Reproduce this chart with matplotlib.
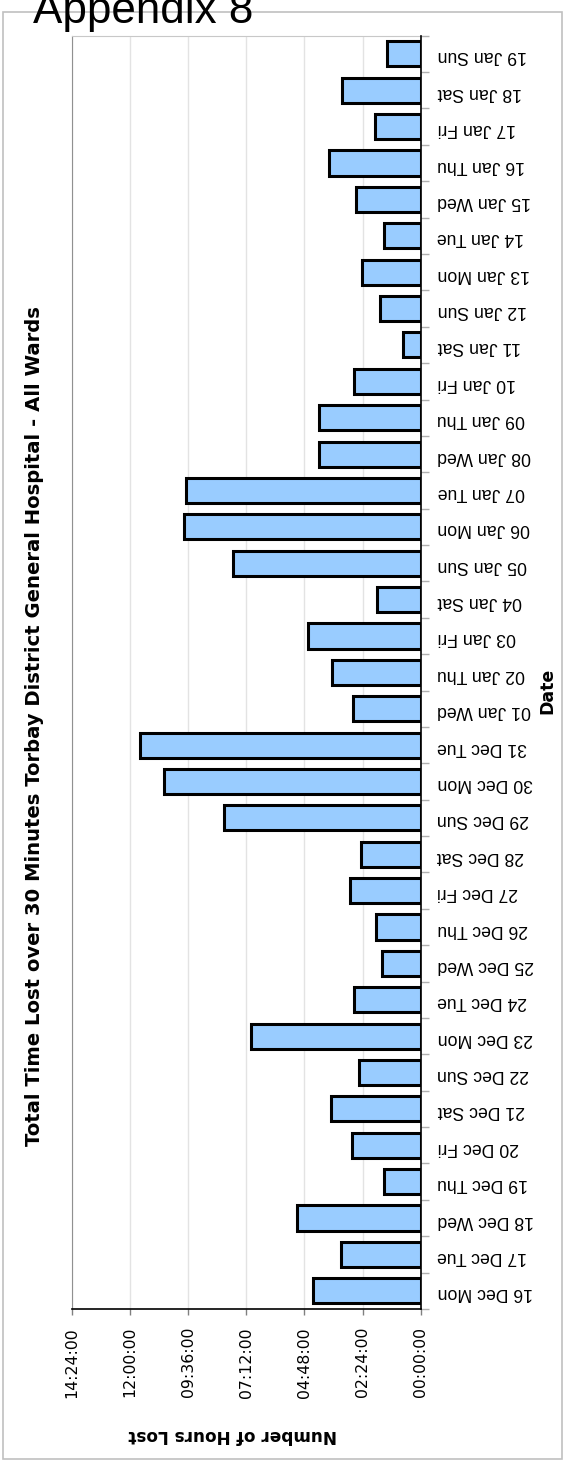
import matplotlib
matplotlib.use('Agg')
import matplotlib.pyplot as plt
from matplotlib.patches import Rectangle
from matplotlib.ticker import FixedLocator, FuncFormatter

plt.rcParams['font.family'] = ['DejaVu Sans']

# dates, bottom to top
dates = ['16 Dec Mon', '17 Dec Tue', '18 Dec Wed', '19 Dec Thu', '20 Dec Fri',
         '21 Dec Sat', '22 Dec Sun', '23 Dec Mon', '24 Dec Tue', '25 Dec Wed',
         '26 Dec Thu', '27 Dec Fri', '28 Dec Sat', '29 Dec Sun', '30 Dec Mon',
         '31 Dec Tue', '01 Jan Wed', '02 Jan Thu', '03 Jan Fri', '04 Jan Sat',
         '05 Jan Sun', '06 Jan Mon', '07 Jan Tue', '08 Jan Wed', '09 Jan Thu',
         '10 Jan Fri', '11 Jan Sat', '12 Jan Sun', '13 Jan Mon', '14 Jan Tue',
         '15 Jan Wed', '16 Jan Thu', '17 Jan Fri', '18 Jan Sat', '19 Jan Sun']
# minutes lost per day
minutes_lost = [266, 198, 306, 90, 170, 222, 153, 420, 164, 96,
                111, 174, 149, 486, 636, 694, 167, 220, 278, 107,
                464, 586, 582, 251, 252, 165, 43, 101, 145, 90,
                160, 227, 112, 194, 84]
value_ticks = [0, 144, 288, 432, 576, 720, 864]

W, H = 563, 1461
fig = plt.figure(figsize=(W / 100, H / 100), dpi=100)

def px(x, y):
    return x / W, 1 - y / H

l, t = px(71.7, 35.7)
r, b = px(420.7, 1309)
ax = fig.add_axes([l, b, r - l, t - b])

pos = list(range(len(dates)))
ax.barh(pos, minutes_lost, height=0.69, color='#99ccff', edgecolor='black',
        linewidth=2.2, zorder=3)

ax.set_xlim(864, 0)
ax.set_ylim(-0.5, len(dates) - 0.5)

# value axis
ax.xaxis.set_major_locator(FixedLocator(value_ticks))
ax.xaxis.set_major_formatter(FuncFormatter(
    lambda v, p: '%02d:%02d:00' % (int(v) // 60, int(v) % 60)))
ax.tick_params(axis='x', direction='out', length=4, width=1, color='#808080',
               pad=9, labelsize=11.3, labelrotation=90)
ax.grid(axis='x', color='#e3e3e3', linewidth=1, zorder=0)

# category axis on the right, labels upside down
ax.yaxis.tick_right()
ax.set_yticks(pos)
ax.set_yticklabels(dates, rotation=180, family='Liberation Sans', fontsize=12.7)
ax.set_yticks([p + 0.5 for p in pos[:-1]] + [-0.5, len(dates) - 0.5], minor=True)
ax.tick_params(axis='y', which='major', length=0, pad=12)
ax.tick_params(axis='y', which='minor', length=6, width=1, color='#b0b0b0')

ax.spines['right'].set_color('black')
ax.spines['right'].set_linewidth(1.2)
ax.spines['bottom'].set_color('black')
ax.spines['bottom'].set_linewidth(1.2)
ax.spines['left'].set_color('#909090')
ax.spines['top'].set_color('#c8c8c8')
ax.spines['right'].set_zorder(4)

# outer chart border
fig.patches.append(Rectangle(px(3, 1459), 559 / W, 1447 / H, transform=fig.transFigure,
                             fill=False, edgecolor='#c0c0c0', linewidth=1.2))

x, y = px(33, 22.7)
fig.text(x, y, 'Appendix 8', family='Liberation Sans', fontsize=31.7, va='baseline', ha='left')

x, y = px(35, 726)
fig.text(x, y, 'Total Time Lost over 30 Minutes Torbay District General Hospital - All Wards',
         rotation=90, fontsize=14.1, fontweight='bold', ha='center', va='center')

x, y = px(233, 1435)
fig.text(x, y, 'Number of Hours Lost', rotation=180, fontsize=12.2, fontweight='bold',
         ha='center', va='center')

x, y = px(547, 691)
fig.text(x, y, 'Date', rotation=90, fontsize=12.5, fontweight='bold', ha='center', va='center')

fig.savefig('out.png', dpi=100)
